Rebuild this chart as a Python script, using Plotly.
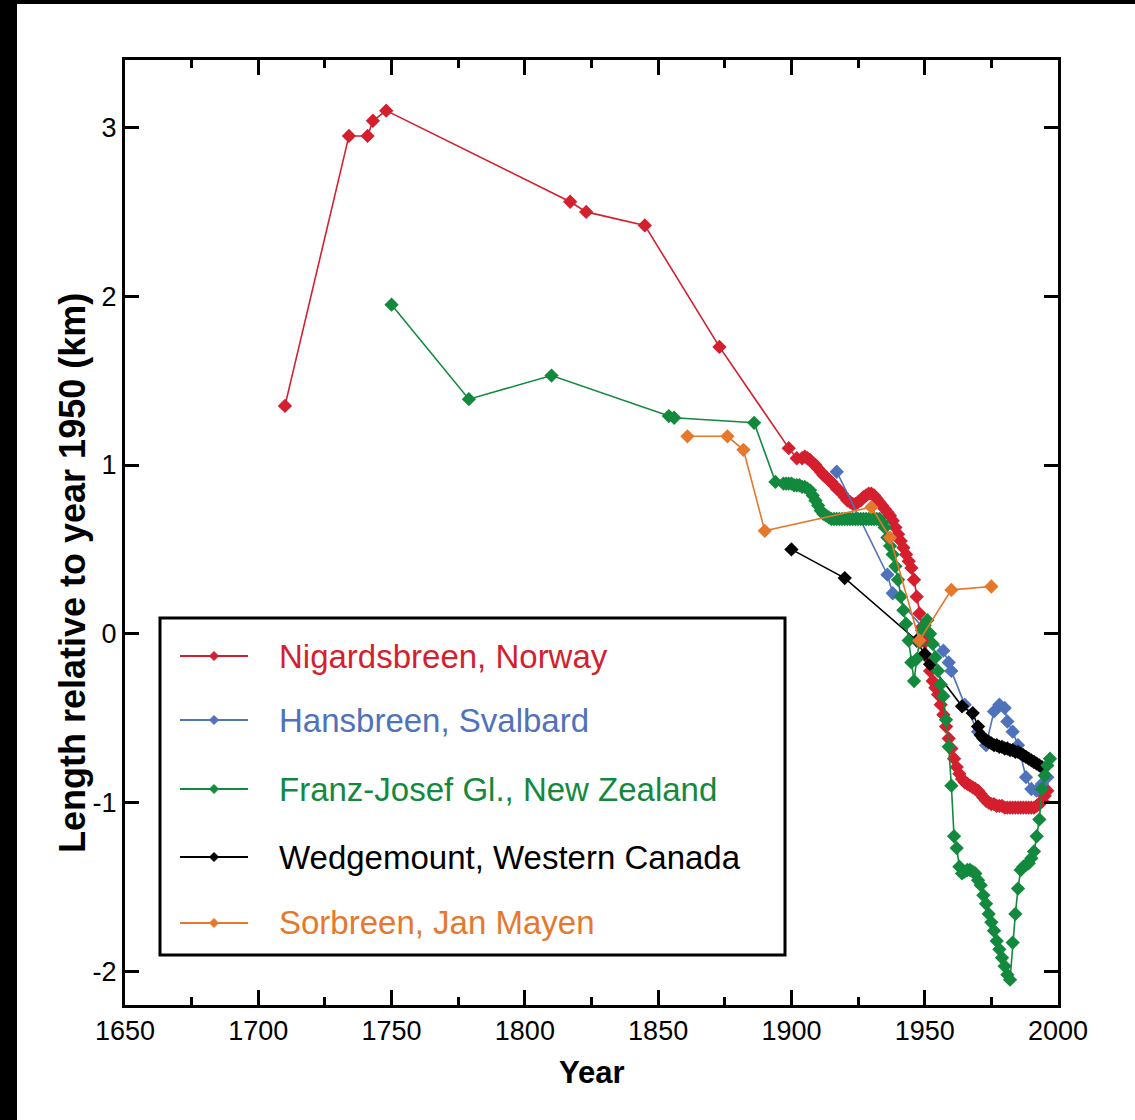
import plotly.graph_objects as go

# ---------------- data ----------------
nig_year = [1710, 1734, 1741, 1743, 1748, 1817, 1823, 1845, 1873, 1899, 1902,
            1904, 1905, 1906, 1907, 1908, 1909, 1910, 1911, 1912, 1913, 1914, 1915,
            1916, 1917, 1918, 1919, 1920, 1921, 1922, 1923, 1924, 1925, 1926, 1927,
            1928, 1929, 1930, 1931, 1932, 1933, 1934, 1935, 1936, 1937, 1938, 1939,
            1940, 1941, 1942, 1943, 1944, 1945, 1946, 1947, 1948, 1949, 1950, 1951,
            1952, 1953, 1954, 1955, 1956, 1957, 1958, 1959, 1960, 1961, 1962, 1963,
            1964, 1965, 1966, 1967, 1968, 1969, 1970, 1971, 1972, 1973, 1974, 1975,
            1976, 1977, 1978, 1979, 1980, 1981, 1982, 1983, 1984, 1985, 1986, 1987,
            1988, 1989, 1990, 1991, 1992, 1993, 1994, 1995, 1996]
nig_len = [1.35, 2.95, 2.95, 3.04, 3.10, 2.56, 2.50, 2.42, 1.70, 1.10, 1.04,
           1.04, 1.05, 1.04, 1.03, 1.01, 1.00, 0.98, 0.96, 0.94, 0.93, 0.91, 0.90,
           0.88, 0.86, 0.85, 0.83, 0.81, 0.79, 0.78, 0.77, 0.77, 0.78, 0.79, 0.81,
           0.82, 0.83, 0.83, 0.82, 0.80, 0.78, 0.76, 0.74, 0.72, 0.70, 0.67, 0.63,
           0.59, 0.55, 0.51, 0.47, 0.43, 0.39, 0.32, 0.22, 0.12, 0.04, -0.05, -0.14,
           -0.22, -0.28, -0.32, -0.36, -0.42, -0.48, -0.55, -0.62, -0.68, -0.74, -0.79, -0.83,
           -0.86, -0.88, -0.89, -0.90, -0.91, -0.92, -0.93, -0.95, -0.97, -0.99, -1.00, -1.01,
           -1.01, -1.02, -1.02, -1.02, -1.03, -1.03, -1.03, -1.03, -1.03, -1.03, -1.03, -1.03,
           -1.03, -1.03, -1.03, -1.03, -1.02, -1.01, -0.99, -0.96, -0.93]

han_year = [1917, 1936, 1938, 1957, 1959, 1960, 1965, 1970, 1973, 1976, 1978,
            1980, 1981, 1983, 1985, 1988, 1990, 1992, 1994, 1996]
han_len = [0.96, 0.35, 0.24, -0.10, -0.17, -0.22, -0.42, -0.58, -0.66, -0.46, -0.42,
           -0.44, -0.52, -0.58, -0.66, -0.85, -0.92, -0.93, -0.89, -0.85]

fj_year = [1750, 1779, 1810, 1854, 1856, 1886, 1894, 1897, 1898, 1899, 1900,
           1901, 1902, 1903, 1904, 1905, 1906, 1907, 1908, 1909, 1910, 1911, 1912,
           1913, 1914, 1915, 1916, 1917, 1918, 1919, 1920, 1921, 1922, 1923, 1924,
           1925, 1926, 1927, 1928, 1929, 1930, 1931, 1932, 1933, 1934, 1935, 1936,
           1937, 1938, 1939, 1940, 1941, 1942, 1943, 1944, 1945, 1946, 1947, 1948,
           1949, 1950, 1951, 1952, 1953, 1954, 1955, 1956, 1957, 1958, 1959, 1960,
           1961, 1962, 1963, 1964, 1965, 1966, 1967, 1968, 1969, 1970, 1971, 1972,
           1973, 1974, 1975, 1976, 1977, 1978, 1979, 1980, 1981, 1982, 1983, 1984,
           1985, 1986, 1987, 1988, 1989, 1990, 1991, 1992, 1993, 1994, 1995, 1996,
           1997]
fj_len = [1.95, 1.39, 1.53, 1.29, 1.28, 1.25, 0.90, 0.89, 0.89, 0.89, 0.89,
          0.88, 0.88, 0.88, 0.87, 0.87, 0.86, 0.85, 0.82, 0.79, 0.76, 0.73, 0.71,
          0.70, 0.69, 0.68, 0.68, 0.68, 0.68, 0.68, 0.68, 0.68, 0.68, 0.68, 0.68,
          0.68, 0.68, 0.68, 0.68, 0.68, 0.68, 0.68, 0.68, 0.68, 0.66, 0.63, 0.57,
          0.52, 0.47, 0.40, 0.32, 0.22, 0.14, 0.06, -0.04, -0.17, -0.28, -0.15, -0.05,
          0.02, 0.05, 0.08, 0.00, -0.06, -0.14, -0.22, -0.30, -0.37, -0.51, -0.67, -0.90,
          -1.20, -1.27, -1.38, -1.42, -1.41, -1.40, -1.40, -1.41, -1.42, -1.46, -1.49, -1.55,
          -1.60, -1.66, -1.71, -1.76, -1.82, -1.87, -1.92, -1.97, -2.02, -2.05, -1.83, -1.66,
          -1.51, -1.40, -1.38, -1.37, -1.36, -1.33, -1.29, -1.20, -1.10, -0.92, -0.84, -0.78,
          -0.74]

wed_year = [1900, 1920, 1947, 1950, 1952, 1964, 1968, 1970, 1971, 1972, 1973,
            1974, 1975, 1976, 1977, 1978, 1979, 1980, 1981, 1982, 1983, 1984, 1985,
            1986, 1987, 1988, 1989, 1990, 1991, 1992, 1993, 1994]
wed_len = [0.50, 0.33, -0.04, -0.12, -0.18, -0.43, -0.47, -0.55, -0.60, -0.62, -0.63,
           -0.64, -0.65, -0.66, -0.66, -0.67, -0.67, -0.68, -0.68, -0.69, -0.69, -0.70, -0.70,
           -0.71, -0.72, -0.73, -0.74, -0.75, -0.76, -0.77, -0.78, -0.79]

sor_year = [1861, 1876, 1882, 1890, 1930, 1937, 1948, 1960, 1975]
sor_len = [1.17, 1.17, 1.09, 0.61, 0.75, 0.57, -0.04, 0.26, 0.28]

names = ["Nigardsbreen, Norway", "Hansbreen, Svalbard", "Franz-Josef Gl., New Zealand",
         "Wedgemount, Western Canada", "Sorbreen, Jan Mayen"]
colors = ["#d41f2e", "#4f72bb", "#13893e", "#000000", "#e5782c"]

x_ticks = [1650, 1700, 1750, 1800, 1850, 1900, 1950, 2000]
y_ticks = [-2, -1, 0, 1, 2, 3]
y_ticktext = ["-2", "-1", "0", "1", "2", "3"]
x_title = "Year"
y_title = "Length relative to year 1950 (km)"

# ---------------- layout geometry ----------------
W, H = 1135, 1120
L, R, T, B = 125, 1058, 60, 1005  # plot area in pixels


def px(xp):
    return (xp - L) / (R - L)


def py(yp):
    return (B - yp) / (B - T)


FONT = "Liberation Sans, Arial, Helvetica, sans-serif"

fig = go.Figure()
series = [(nig_year, nig_len, 0), (han_year, han_len, 1), (wed_year, wed_len, 3),
          (fj_year, fj_len, 2), (sor_year, sor_len, 4)]
for xs, ys, i in series:
    fig.add_trace(go.Scatter(
        x=xs, y=ys, mode="lines+markers", name=names[i],
        line=dict(color=colors[i], width=1.6),
        marker=dict(symbol="diamond", size=11, color=colors[i]),
        showlegend=False))

shapes = []
annotations = []
# black frame on left / top edges of the picture
shapes.append(dict(type="rect", xref="paper", yref="paper", x0=px(0), x1=px(17), y0=py(H), y1=py(0),
                   fillcolor="black", line=dict(width=0), layer="above"))
shapes.append(dict(type="rect", xref="paper", yref="paper", x0=px(0), x1=px(W), y0=py(4), y1=py(0),
                   fillcolor="black", line=dict(width=0), layer="above"))

# legend box
shapes.append(dict(type="rect", xref="paper", yref="paper", x0=px(160), x1=px(785), y0=py(955), y1=py(618),
                   fillcolor="white", line=dict(color="black", width=3), layer="above"))
rows = [656, 720, 789, 857, 923]
for i, yr in enumerate(rows):
    shapes.append(dict(type="line", xref="paper", yref="paper", x0=px(180), x1=px(248), y0=py(yr), y1=py(yr),
                       line=dict(color=colors[i], width=2), layer="above"))
    cx, d = 214, 4.5
    path = "M {},{} L {},{} L {},{} L {},{} Z".format(px(cx - d), py(yr), px(cx), py(yr - d),
                                                      px(cx + d), py(yr), px(cx), py(yr + d))
    shapes.append(dict(type="path", xref="paper", yref="paper", path=path,
                       fillcolor=colors[i], line=dict(color=colors[i], width=1), layer="above"))
    annotations.append(dict(xref="paper", yref="paper", x=px(277), y=py(yr), xanchor="left", yanchor="middle",
                            text=names[i], showarrow=False, font=dict(family=FONT, size=33, color=colors[i])))

# axis titles
annotations.append(dict(xref="paper", yref="paper", x=px(592), y=py(1072), xanchor="center", yanchor="middle",
                        text="<b>" + x_title + "</b>", showarrow=False,
                        font=dict(family=FONT, size=31, color="black")))
annotations.append(dict(xref="paper", yref="paper", x=px(72), y=py(573), xanchor="center", yanchor="middle",
                        text="<b>" + y_title + "</b>", showarrow=False, textangle=-90,
                        font=dict(family=FONT, size=36, color="black")))

axis_common = dict(showline=True, linecolor="black", linewidth=3, mirror="allticks",
                   ticks="inside", tickcolor="black", tickwidth=3, showgrid=False, zeroline=False,
                   tickfont=dict(family=FONT, size=27, color="black"))

fig.update_layout(
    width=W, height=H,
    margin=dict(l=L, r=W - R, t=T, b=H - B, autoexpand=False),
    paper_bgcolor="white", plot_bgcolor="white",
    showlegend=False,
    shapes=shapes, annotations=annotations,
    xaxis=dict(range=[1650, 2000], tickvals=x_ticks, ticklen=15,
               minor=dict(dtick=25, tick0=1650, ticks="inside", ticklen=8, tickwidth=3, tickcolor="black"),
               **axis_common),
    yaxis=dict(range=[-2.2, 3.4], tickvals=y_ticks, ticktext=y_ticktext, ticklen=14,
               **axis_common),
)

fig.write_html("out.html", config={"displayModeBar": False},
               post_script="document.body.style.margin='0';document.body.style.overflow='hidden';")
